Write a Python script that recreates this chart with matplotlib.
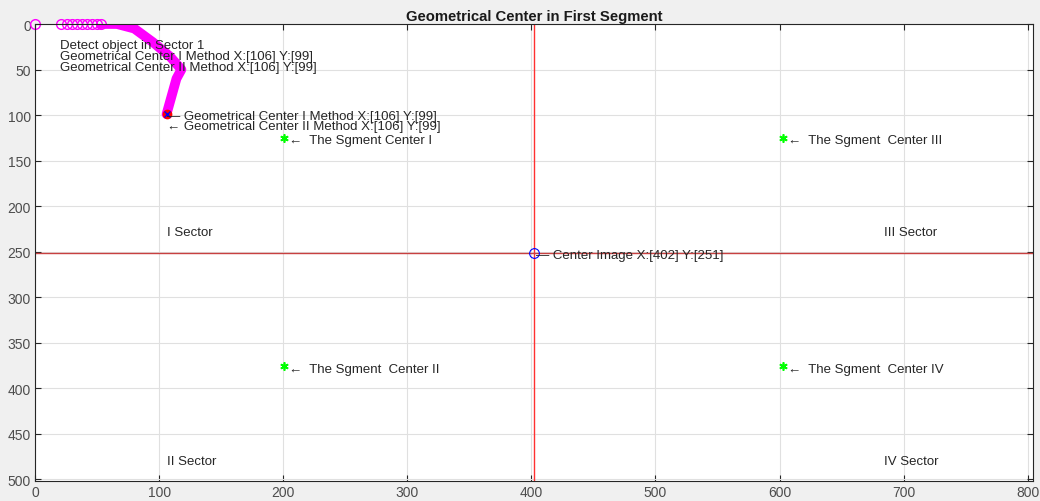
import numpy as np
import matplotlib
matplotlib.use('Agg')
import matplotlib.pyplot as plt

plt.rcParams['font.family'] = ['Liberation Sans', 'DejaVu Sans']

# image size and center
img_w, img_h = 804, 502
center_x, center_y = 402, 251

# tracked object path (first points are single detections)
dots_x = [0, 21, 26, 30, 34, 38, 42, 46, 50, 53]
dots_y = [0, 0, 0, 0, 0, 0, 0, 0, 0, 0]
path_x = [53, 66, 80, 95, 109, 118, 114, 106]
path_y = [0, 0, 5, 20, 36, 50, 60, 99]

# geometrical center result
gc_x, gc_y = 106, 99

# segment centers
seg_x = [201, 201, 603, 603]
seg_y = [125, 376, 125, 376]
seg_labels = ['\u2190  The Sgment Center I', '\u2190  The Sgment  Center II',
              '\u2190  The Sgment  Center III', '\u2190  The Sgment  Center IV']

# sector labels
sector_x = [106, 106, 684, 684]
sector_y = [226, 478, 226, 478]
sector_labels = ['I Sector', 'II Sector', 'III Sector', 'IV Sector']

fig = plt.figure(figsize=(10.4, 5.02), dpi=100)
fig.patch.set_facecolor('#f0f0f0')
ax = fig.add_axes([35/1040, 20/502, (1032.7-35)/1040, (482-25)/502])
ax.set_facecolor('white')

fs = 9.5
txt_col = '#262626'
dy = 2.5  # text baseline nudge (data units)

# grid & axes style (matlab look)
ax.set_xlim(0, img_w)
ax.set_ylim(img_h, 0)
ax.set_xticks(np.arange(0, 801, 100))
ax.set_yticks(np.arange(0, 501, 50))
ax.grid(True, color='#e0e0e0', linewidth=0.8)
ax.set_axisbelow(True)
ax.tick_params(direction='in', top=True, right=True, labelsize=10, colors='#262626',
               labelcolor='#4d4d4d', length=4, pad=3)
for s in ax.spines.values():
    s.set_color('#262626')
    s.set_linewidth(0.8)

# center cross lines
ax.axvline(center_x, color='#ff3030', linewidth=1.0)
ax.axhline(center_y, color='#c84040', linewidth=1.0)

# path
ax.plot(dots_x, dots_y, 'o', mfc='none', mec='#ff00ff', ms=7, mew=1.0, clip_on=False)
ax.plot(path_x, path_y, '-', color='#ff00ff', linewidth=7, solid_capstyle='round')
ax.plot(gc_x, gc_y, 'o', color='#ff0000', ms=6)
ax.plot(gc_x, gc_y, 'x', color='#0000ff', ms=5, mew=1)

ax.text(20, 33 + dy, 'Detect object in Sector 1\nGeometrical Center I Method X:[%d] Y:[%d]\n'
        'Geometrical Center II Method X:[%d] Y:[%d]' % (gc_x, gc_y, gc_x, gc_y),
        fontsize=fs, color=txt_col, va='center', linespacing=0.9)
ax.text(gc_x, gc_y + dy, '\u2014 Geometrical Center I Method X:[%d] Y:[%d]' % (gc_x, gc_y),
        fontsize=fs, color=txt_col, va='center')
ax.text(gc_x, gc_y + 11 + dy, '\u2190 Geometrical Center II Method X:[%d] Y:[%d]' % (gc_x, gc_y),
        fontsize=fs, color=txt_col, va='center')

# segment centers
ax.plot(seg_x, seg_y, marker=(6, 2, 0), color='#00ff00', ms=6, mew=1.2, linestyle='none')
for x, y, lab in zip(seg_x, seg_y, seg_labels):
    ax.text(x + 4, y + dy, lab, fontsize=fs, color=txt_col, va='center')

# sectors
for x, y, lab in zip(sector_x, sector_y, sector_labels):
    ax.text(x, y + dy, lab, fontsize=fs, color=txt_col, va='center')

# image center
ax.plot(center_x, center_y, 'o', mfc='none', mec='#0000ff', ms=7, mew=0.8)
ax.text(center_x + 2, center_y + dy, '\u2014 Center Image X:[%d] Y:[%d]' % (center_x, center_y),
        fontsize=fs, color=txt_col, va='center')

ax.set_title('Geometrical Center in First Segment', fontsize=10.7, fontweight='bold',
             color='#1a1a1a', pad=3)

fig.savefig('out.png', dpi=100, facecolor=fig.get_facecolor())
